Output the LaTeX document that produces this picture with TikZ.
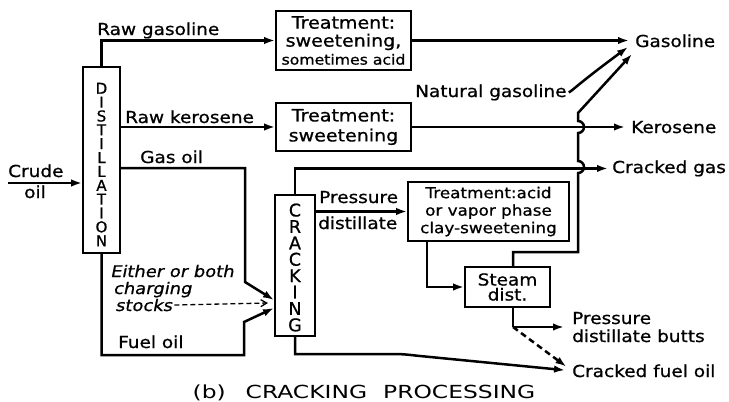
\documentclass[tikz,border=0pt]{standalone}
\usepackage{fontspec}
\setmainfont{DejaVu Sans}[FakeStretch=1.12,FakeBold=0.8]
\newfontfamily\handit{DejaVu Sans}[FakeStretch=1.12,FakeSlant=0.2,FakeBold=0.8]
\newfontfamily\vfont{DejaVu Sans}[FakeStretch=1.0,FakeBold=0.8]
\newfontfamily\capfont{DejaVu Sans}[FakeStretch=1.3]
\usetikzlibrary{arrows.meta}
\begin{document}
\begin{tikzpicture}[x=1pt,y=-1pt,
  ln/.style={line width=2.5pt},
  arr/.style={ln,-{Latex[length=11pt,width=7.5pt]}},
  box/.style={draw,line width=1.8pt,inner sep=0pt,align=center,font=\fontsize{17}{18}\selectfont},
  lbl/.style={inner sep=0pt,anchor=base west,font=\fontsize{16.5}{18}\selectfont},
  ilbl/.style={lbl,font=\handit\fontsize{16}{18}\selectfont},
  vlbl/.style={inner sep=0pt,align=center,font=\vfont\fontsize{15}{13.86}\selectfont}
]
\useasboundingbox (0,0) rectangle (729,402);
\fill[white] (0,0) rectangle (729,402);

% boxes
\node[box,minimum width=37pt,minimum height=186pt] (dist) at (101.5,160) {};
\node[vlbl] (distl) at (101.5,164.5) {D\\I\\S\\T\\I\\L\\L\\A\\T\\I\\O\\N};
\node[box,minimum width=40pt,minimum height=141pt] (crack) at (295,265.5) {};
\node[vlbl,font=\vfont\fontsize{17.5}{16.4}\selectfont] (crackl) at (295,267.5) {C\\R\\A\\C\\K\\I\\N\\G};
\node[box,minimum width=135pt,minimum height=59pt] (tr1) at (343.5,40.5)
  {Treatment:\\sweetening,\\{\fontsize{14}{16}\selectfont sometimes acid}};
\node[box,minimum width=135pt,minimum height=48pt,font=\fontsize{17}{20}\selectfont] (tr2) at (343.5,127)
  {Treatment:\\sweetening};
\node[box,minimum width=161pt,minimum height=59pt,font=\fontsize{15}{17.5}\selectfont] (tr3) at (488.5,211.5)
  {Treatment:acid\\or vapor phase\\clay-sweetening};
\node[box,minimum width=85pt,minimum height=40pt,font=\fontsize{16.5}{15}\selectfont] (steam) at (507.5,287)
  {Steam\\dist.};

% labels
\node[lbl] (rawg) at (97,35) {Raw gasoline};
\node[lbl] (rawk) at (125,123) {Raw kerosene};
\node[lbl] (gasoil) at (140,163) {Gas oil};
\node[lbl] (crude) at (8,177) {Crude};
\node[lbl] (oil) at (24,198) {oil};
\node[lbl] (fuel) at (118,348) {Fuel oil};
\node[ilbl] (eith1) at (110,277) {Either or both};
\node[ilbl] (eith2) at (113,294) {charging};
\node[ilbl] (eith3) at (115,311) {stocks};
\node[lbl] (pd1) at (319,203) {Pressure};
\node[lbl] (pd2) at (318,229) {distillate};
\node[lbl] (gas) at (635,47) {Gasoline};
\node[lbl] (ng) at (415,97) {Natural gasoline};
\node[lbl] (ker) at (631,133) {Kerosene};
\node[lbl] (cg) at (612,173) {Cracked gas};
\node[lbl] (pb1) at (572,324) {Pressure};
\node[lbl] (pb2) at (572,342) {distillate butts};
\node[lbl] (cfo) at (572,377) {Cracked fuel oil};
\node[inner sep=0pt,anchor=base,font=\capfont\fontsize{18}{20}\selectfont] (cap) at (364,398)
  {(b)\hspace{20pt}CRACKING\hspace{16pt}PROCESSING};

% coordinates
\coordinate (cs) at (8,183);
\coordinate (go) at (245,168);
\coordinate (gob) at (245,282);
\coordinate (cin1) at (274,300);
\coordinate (fo) at (244,355);
\coordinate (fot) at (244,322);
\coordinate (cin2) at (274,308);
\coordinate (cin0) at (268,303);
\coordinate (st) at (513,252);
\coordinate (sr) at (578,252);
\coordinate (gt1) at (628,47);
\coordinate (gt2) at (632,54);
\coordinate (sb) at (513,327);

% connectors
\draw[arr] (cs) -- (cs -| dist.west);
\draw[arr] (dist.north) |- (tr1.west);
\draw[arr,shorten >=6pt] (tr1.east) -- (tr1.east -| gas.west);
\draw[arr] (dist.east |- tr2.west) -- (tr2.west);
\draw[arr,shorten >=6pt] (tr2.east) -- (tr2.east -| ker.west);
\draw[arr] (dist.east |- go) -- (go) -- (gob) -- (cin1);
\draw[arr] (dist.south) |- (fo) -- (fot) -- (cin2);
\draw[line width=1.3pt,dash pattern=on 5pt off 3pt,-{Straight Barb[length=6pt,width=7pt]}]
  ([xshift=2pt]eith3.east) -- (cin0);
\draw[arr,shorten >=4pt] (crack.north) |- (cg.west);
\draw[arr] (crack.east |- tr3.west) -- (tr3.west);
\draw[arr] ([xshift=20pt]tr3.south west) |- (steam.west);
\draw[arr] ([xshift=5.5pt]steam.north) -- (st) -- (sr) -- (578,173)
  arc[start angle=90,end angle=-90,radius=6] -- (578,133)
  arc[start angle=90,end angle=-90,radius=6] -- (578,113) -- (gt2);
\draw[arr] ([xshift=2pt]ng.east) .. controls (572,91) and (578,84) .. (gt1);
\draw[ln] ([xshift=5.5pt]steam.south) -- (sb);
\draw[arr,shorten >=8pt] (sb) -- (sb -| pb1.west);
\draw[arr,dash pattern=on 6pt off 4pt,shorten >=7pt] (sb) -- (cfo.west);
\draw[arr,shorten >=7pt] (crack.south) |- (392,354)
  .. controls (405,354) and (410,355) .. (420,356) -- (cfo.west);
\end{tikzpicture}
\end{document}
